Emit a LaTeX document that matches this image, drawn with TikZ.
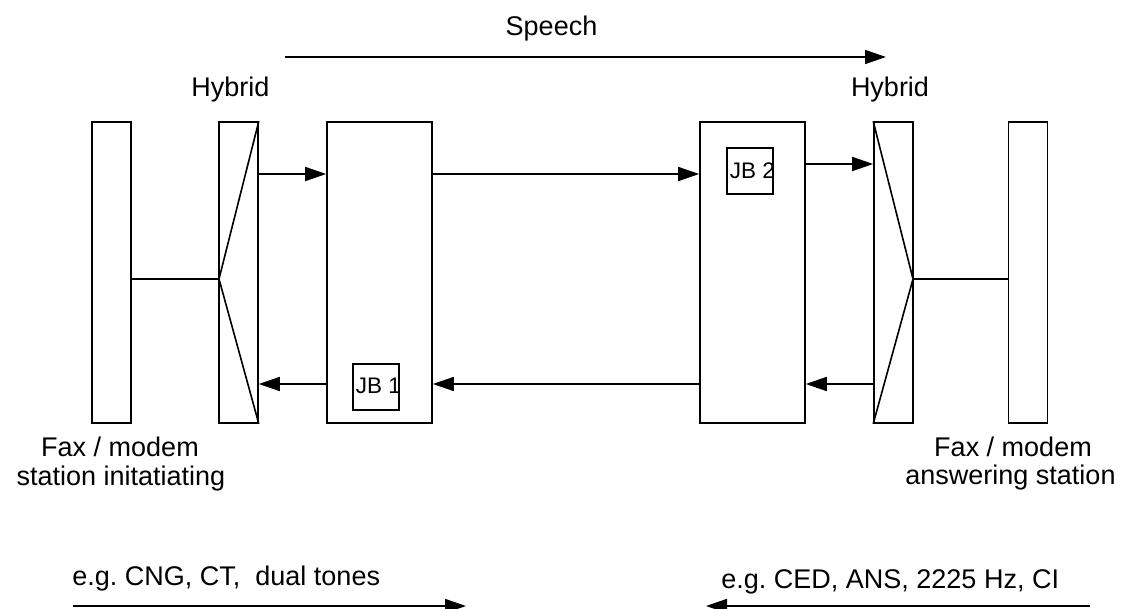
\documentclass[tikz,border=0pt]{standalone}
\usepackage{fontspec}
\setmainfont{Liberation Sans}
\usetikzlibrary{arrows.meta,calc}
\frenchspacing
\begin{document}
\begin{tikzpicture}[x=0.5pt,y=-0.5pt,
  ln/.style={line width=0.8pt},
  narrowbox/.style={draw,ln,inner sep=0pt,minimum width=19.5pt,minimum height=150.5pt},
  gwbox/.style={draw,ln,inner sep=0pt,minimum width=52.5pt,minimum height=150.5pt},
  jbbox/.style={draw,ln,inner sep=0pt,minimum width=23pt,minimum height=23pt},
  jbtext/.style={inner sep=0pt,anchor=base,font=\fontsize{11.25}{13}\selectfont},
  lbl/.style={inner sep=0pt,font=\fontsize{13.5}{16}\selectfont},
  arr/.style={ln,-{Triangle[length=10.5pt,width=7pt]}}
]
\useasboundingbox (0,0) rectangle (1124,609);

% boxes
\node[narrowbox] (fax1) at (111.5,272.5) {};
\node[narrowbox] (hyb1) at (238.5,272.5) {};
\node[gwbox]     (gw1)  at (379.5,272.5) {};
\node[gwbox]     (gw2)  at (752.5,272.5) {};
\node[narrowbox] (hyb2) at (893.5,272.5) {};
\node[narrowbox] (fax2) at (1028,272.5) {};
\node[jbbox] (jb1) at (376,387) {};
\node[jbbox] (jb2) at (750,171) {};
\node[jbtext] (jb1t) at (378.5,393.5) {JB 1};
\node[jbtext] (jb2t) at (752.5,178.5) {JB 2};

% hybrid vertices
\coordinate (v1) at (219,279);
\coordinate (v2) at (913,279);
\draw[ln] (hyb1.north east) -- (v1) -- (hyb1.south east);
\draw[ln] (hyb2.north west) -- (v2) -- (hyb2.south west);
\draw[ln] (fax1.east |- v1) -- (v1);
\draw[ln] (v2) -- (fax2.west |- v2);

% levels
\coordinate (yT) at (0,174);
\coordinate (yT2) at (0,164);
\coordinate (yB) at (0,384);

\draw[arr] (hyb1.east |- yT) -- (gw1.west |- yT);
\draw[arr] (gw1.east |- yT) -- (gw2.west |- yT);
\draw[arr] (gw2.east |- yT2) -- (hyb2.west |- yT2);
\draw[arr] (gw1.west |- yB) -- (hyb1.east |- yB);
\draw[arr] (gw2.west |- yB) -- (gw1.east |- yB);
\draw[arr] (hyb2.west |- yB) -- (gw2.east |- yB);

% speech
\coordinate (sp1) at (285,57);
\coordinate (sp2) at (886,57);
\draw[arr] (sp1) -- (sp2);
\node[lbl,anchor=base] (speech) at (551.5,36) {Speech};

% hybrid labels
\node[lbl,anchor=base] (hl1) at (230.5,97) {Hybrid};
\node[lbl,anchor=base] (hl2) at (890,97) {Hybrid};

% station labels
\node[lbl,anchor=base] (fl1a) at (120,456) {Fax / modem};
\node[lbl,anchor=base] (fl1b) at (121,485) {station initatiating};
\node[lbl,anchor=base] (fl2a) at (1013,456) {Fax / modem};
\node[lbl,anchor=base] (fl2b) at (1010.5,484) {answering station};

% bottom signals
\node[lbl,anchor=base west] (sigL) at (72,585) {e.g. CNG, CT, \ dual tones};
\node[lbl,anchor=base west] (sigR) at (721,588) {e.g. CED, ANS, 2225 Hz, CI};
\coordinate (bl1) at (73,606);
\coordinate (bl2) at (466,606);
\coordinate (br1) at (1090,606);
\coordinate (br2) at (706,606);
\draw[arr] (bl1) -- (bl2);
\draw[arr] (br1) -- (br2);
\end{tikzpicture}
\end{document}
